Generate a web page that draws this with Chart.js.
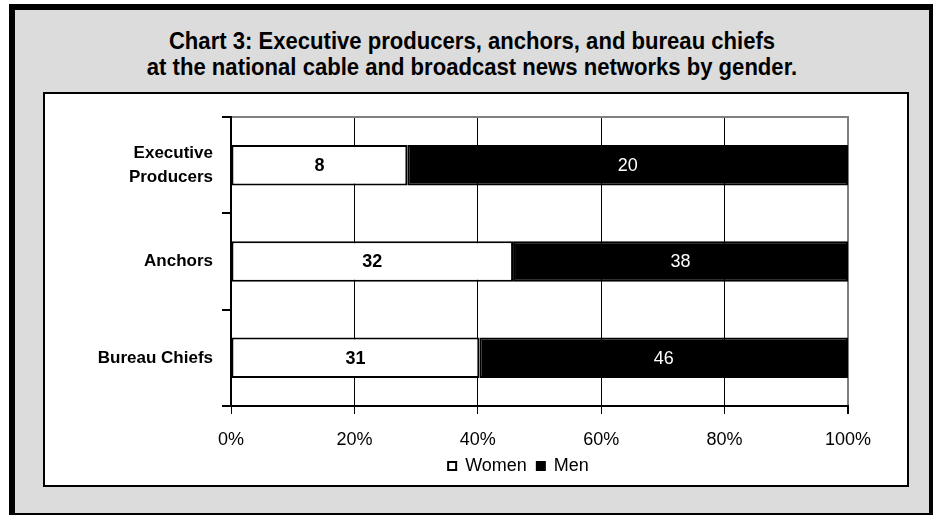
<!DOCTYPE html>
<html>
<head>
<meta charset="utf-8">
<script src="https://cdn.jsdelivr.net/npm/chart.js@4"></script>
<style>
  html, body { margin: 0; padding: 0; background: #fff; overflow: hidden; }
  .frame {
    position: absolute; left: 9px; top: 4px; width: 914px; height: 503px;
    background: #dcdcdc; border: 6px solid #000;
  }
  .title {
    position: absolute; left: 0; top: 18px; width: 914px; text-align: center;
    font-family: "Liberation Sans", Arial, sans-serif;
    font-weight: bold; font-size: 24px; line-height: 26px; color: #000;
    transform: scaleX(0.92); transform-origin: 50% 0;
  }
  .plotbox {
    position: absolute; left: 28px; top: 82px; width: 862px; height: 391px;
    background: #fff; border: 2px solid #000;
  }
</style>
</head>
<body>
<div class="frame">
  <div class="title">Chart 3: Executive producers, anchors, and bureau chiefs<br>at the national cable and broadcast news networks by gender.</div>
  <div class="plotbox"><canvas id="chartGender" width="862" height="391"></canvas></div>
</div>
<script>
const categories = [["Executive", "Producers"], "Anchors", "Bureau Chiefs"];
const women = [8, 32, 31];
const men = [20, 38, 46];
const percentTicks = [0, 20, 40, 60, 80, 100];

// each row is shown as a share of its own total
const share = (part, i) => part[i] / (women[i] + men[i]) * 100;
const womenShare = women.map((v, i) => share(women, i));
const menShare = men.map((v, i) => share(men, i));

const legendOffset = 72;

// prints the head counts in the middle of each bar
const countLabels = {
  id: "countLabels",
  afterDatasetsDraw(chart) {
    const ctx = chart.ctx;
    chart.data.datasets.forEach((ds, di) => {
      chart.getDatasetMeta(di).data.forEach((bar, i) => {
        const p = bar.getCenterPoint();
        ctx.save();
        ctx.font = ds.labelFont;
        ctx.fillStyle = ds.labelColor;
        ctx.textAlign = "center";
        ctx.textBaseline = "middle";
        ctx.fillText(ds.counts[i], p.x, p.y + 1);
        ctx.restore();
      });
    });
  }
};

// legend sits a little right of the canvas centre
const legendShift = {
  id: "legendShift",
  afterLayout(chart) {
    chart.legend.left += legendOffset;
    chart.legend.right += legendOffset;
  }
};

new Chart(document.getElementById("chartGender"), {
  type: "bar",
  data: {
    labels: categories,
    datasets: [
      {
        label: "Women", data: womenShare, counts: women,
        backgroundColor: "#fff", borderColor: "#000", borderWidth: 2, borderSkipped: false,
        labelFont: "bold 18px 'Liberation Sans', Arial", labelColor: "#000"
      },
      {
        label: "Men", data: menShare, counts: men,
        backgroundColor: "#000", borderColor: "#000", borderWidth: 2, borderSkipped: false,
        labelFont: "18px 'Liberation Sans', Arial", labelColor: "#fff"
      }
    ]
  },
  options: {
    indexAxis: "y",
    responsive: false,
    animation: false,
    layout: { padding: { left: 0, right: 59, top: 23, bottom: 0 } },
    datasets: { bar: { barPercentage: 0.42, categoryPercentage: 1 } },
    scales: {
      x: {
        stacked: true, min: 0, max: 100,
        afterBuildTicks: s => { s.ticks = percentTicks.map(v => ({ value: v })); },
        afterFit: s => { s.height = 41; },
        ticks: {
          callback: v => v + "%",
          color: "#000", padding: 15,
          font: { family: "'Liberation Sans', Arial", size: 18 }
        },
        grid: {
          color: c => c.tick && c.tick.value === 100 ? "#808080" : "#000",
          lineWidth: c => c.tick && c.tick.value === 100 ? 2 : 1,
          tickColor: "#000", tickLength: 8
        },
        border: { color: "#000", width: 2 }
      },
      xTop: {
        axis: "x", position: "top", min: 0, max: 100,
        ticks: { display: false },
        grid: { display: false, drawTicks: false },
        border: { color: "#808080", width: 2 }
      },
      y: {
        stacked: true,
        afterFit: s => { s.width = 186; },
        ticks: {
          color: "#000", padding: 9,
          font: { family: "'Liberation Sans', Arial", size: 17, weight: "bold", lineHeight: 1.4 }
        },
        grid: { offset: true, drawOnChartArea: false, tickColor: "#000", tickLength: 9, lineWidth: 2 },
        border: { color: "#000", width: 2 }
      }
    },
    plugins: {
      legend: {
        position: "bottom",
        labels: {
          color: "#000", boxWidth: 8, boxHeight: 8, padding: 10,
          font: { family: "'Liberation Sans', Arial", size: 18 }
        }
      },
      tooltip: { enabled: false }
    }
  },
  plugins: [countLabels, legendShift]
});
</script>
</body>
</html>
